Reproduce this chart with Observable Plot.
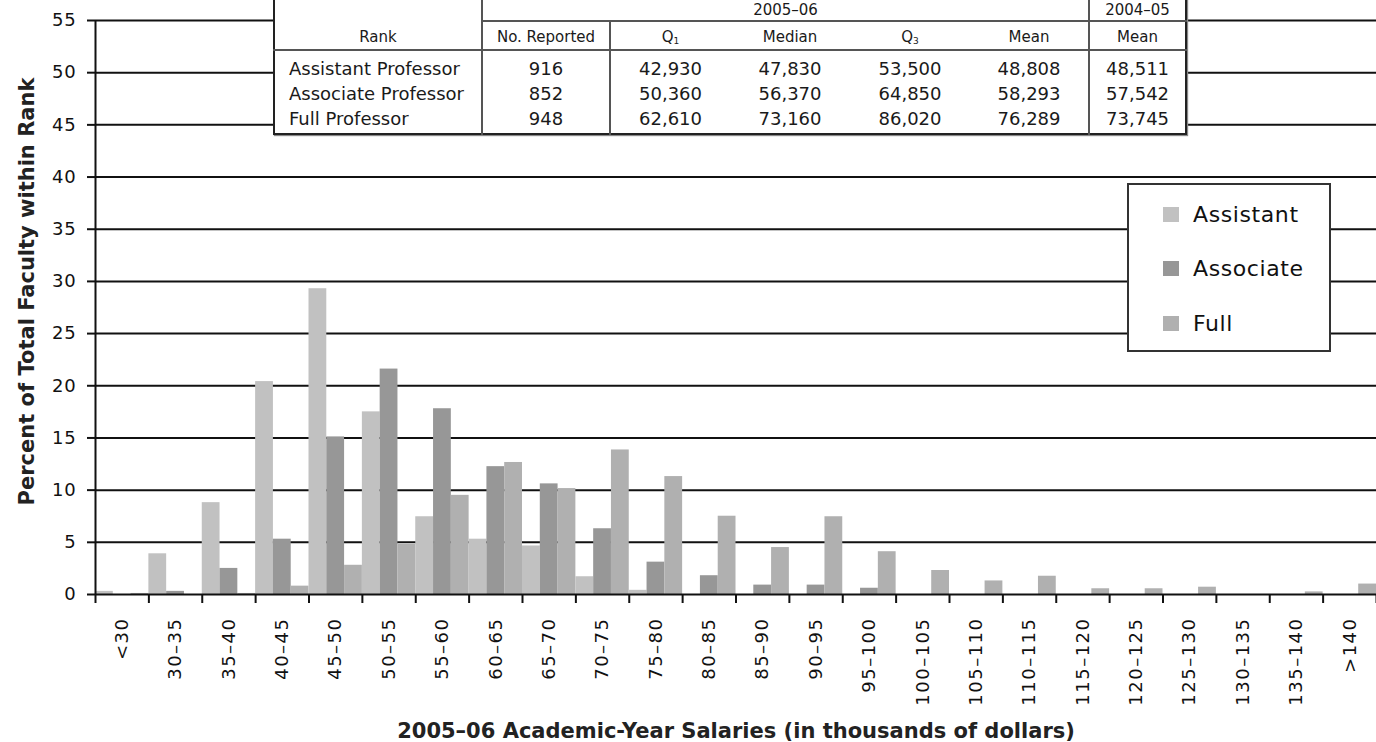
<!DOCTYPE html>
<html>
<head>
<meta charset="utf-8">
<script src="https://cdn.jsdelivr.net/npm/d3@7"></script>
<script src="https://cdn.jsdelivr.net/npm/@observablehq/plot@0.6"></script>
<style>
  body { margin: 0; background: #fff; font-family: "DejaVu Sans", sans-serif; }
  #wrap { position: relative; width: 1376px; height: 742px; overflow: hidden; }
  #wrap svg g[aria-label="x-axis tick label"] text { letter-spacing: 1.5px; }
  #wrap svg g[aria-label="y-axis tick label"] text { letter-spacing: 0.8px; }
  #tbl { position: absolute; left: 273px; top: -2px; width: 912px; border-collapse: collapse; table-layout: fixed;
         background: #fff; border: 2px solid #222; box-shadow: 1px 1px 1px #888; font-family: "DejaVu Sans", sans-serif; color: #1a1a1a; }
  #tbl th { font-weight: normal; font-size: 15px; padding: 0; text-align: center; }
  #tbl td { font-size: 18px; padding: 0; text-align: center; height: 25px; line-height: 25px; }
  #tbl .rank { text-align: left; padding-left: 14px; }
  #tbl .vr { border-right: 2px solid #555; }
  #tbl .hb { border-bottom: 2px solid #555; }
  #tbl sub { font-size: 9px; vertical-align: -2px; }
  #legend { position: absolute; left: 1127px; top: 183px; width: 200px; height: 165px; border: 2px solid #333; background: #fff; }
  #legend .item { position: absolute; left: 34px; height: 24px; display: flex; align-items: center; font-size: 22px; letter-spacing: 0.6px; color: #111; }
  #legend .sw { width: 16px; height: 15px; margin-right: 14px; }
</style>
</head>
<body>
<div id="wrap"></div>
<script>
// ---- Chart data ----
const categories = ["<30","30–35","35–40","40–45","45–50","50–55","55–60","60–65","65–70","70–75","75–80","80–85",
  "85–90","90–95","95–100","100–105","105–110","110–115","115–120","120–125","125–130","130–135","135–140",">140"];
const ranks = ["Assistant", "Associate", "Full"];
const colors = ["#c1c1c1", "#979797", "#b0b0b0"];
const assistant = [0.3, 3.9, 8.8, 20.4, 29.3, 17.5, 7.45, 5.3, 4.65, 1.7, 0.4, 0, 0, 0, 0, 0, 0, 0, 0, 0, 0, 0, 0, 0];
const associate = [0, 0.3, 2.5, 5.3, 15.1, 21.6, 17.8, 12.25, 10.6, 6.3, 3.1, 1.8, 0.9, 0.9, 0.6, 0, 0, 0, 0, 0, 0, 0, 0, 0];
const full      = [0.1, 0, 0.1, 0.8, 2.8, 4.8, 9.5, 12.65, 10.15, 13.85, 11.3, 7.5, 4.5, 7.45, 4.1, 2.3, 1.3, 1.75, 0.55, 0.55, 0.7, 0, 0.25, 1.0];
const yTicks = [0, 5, 10, 15, 20, 25, 30, 35, 40, 45, 50, 55];
const xTitle = "2005–06 Academic-Year Salaries (in thousands of dollars)";
const yTitle = "Percent of Total Faculty within Rank";

// ---- Table data ----
const tableRanks = ["Assistant Professor", "Associate Professor", "Full Professor"];
const noReported = [916, 852, 948];
const q1 = [42930, 50360, 62610];
const median = [47830, 56370, 73160];
const q3 = [53500, 64850, 86020];
const mean0506 = [48808, 58293, 76289];
const mean0405 = [48511, 57542, 73745];

const series = [assistant, associate, full];
const rows = categories.flatMap((c, i) => series.map((s, r) => ({cat: c, i, r, rank: ranks[r], value: s[i]})));
const nCat = categories.length;

const chart = Plot.plot({
  width: 1376, height: 742,
  marginLeft: 95, marginRight: 0, marginTop: 20, marginBottom: 148,
  style: {fontFamily: "DejaVu Sans, sans-serif", color: "#111", background: "transparent", overflow: "visible"},
  x: {type: "linear", domain: [0, nCat]},
  y: {domain: [0, 55]},
  color: {domain: ranks, range: colors},
  marks: [
    Plot.gridY(yTicks.slice(1), {stroke: "#111", strokeOpacity: 1, strokeWidth: 2}),
    Plot.rect(rows, {x1: d => d.i + d.r / 3, x2: d => d.i + (d.r + 1) / 3, y1: 0, y2: "value", fill: "rank"}),
    Plot.ruleY([0], {stroke: "#111", strokeWidth: 2}),
    Plot.ruleX([0], {stroke: "#111", strokeWidth: 2}),
    Plot.axisY(yTicks, {tickSize: 8, tickPadding: 11, fontSize: 18, label: null, strokeWidth: 2}),
    Plot.axisX(d3.range(0, nCat + 1), {tickSize: 9, tickFormat: () => "", label: null, strokeWidth: 2}),
    Plot.axisX(d3.range(nCat).map(i => i + 0.5), {tickSize: 0, tickPadding: 23, tickRotate: -90, fontSize: 18,
      tickFormat: v => categories[Math.floor(v)], label: null}),
    Plot.text([yTitle], {text: d => d, frameAnchor: "left", textAnchor: "middle", rotate: -90, dx: -68, dy: -16, fontSize: 21, fontWeight: "bold", fill: "#222"}),
    Plot.text([xTitle], {text: d => d, frameAnchor: "bottom", dy: 143, fontSize: 21, fontWeight: "bold", fill: "#222"})
  ]
});

const wrap = d3.select("#wrap");
wrap.node().appendChild(chart);

// ---- Table ----
const fmt = d3.format(",");
const tbl = wrap.append("table").attr("id", "tbl");
const cg = tbl.append("colgroup");
[208, 128, 120, 120, 120, 119, 97].forEach(w => cg.append("col").style("width", w + "px"));
const thead = tbl.append("thead");
const h1 = thead.append("tr").style("height", "22px");
h1.append("th").attr("rowspan", 2).attr("class", "vr hb").style("vertical-align", "bottom").style("padding-bottom", "3px").text("Rank");
h1.append("th").attr("colspan", 5).attr("class", "vr hb").text("2005–06");
h1.append("th").attr("class", "hb").text("2004–05");
const h2 = thead.append("tr").style("height", "29px");
h2.append("th").attr("class", "vr hb").style("padding-top", "3px").text("No. Reported");
h2.append("th").attr("class", "hb").style("padding-top", "3px").html("Q<sub>1</sub>");
h2.append("th").attr("class", "hb").style("padding-top", "3px").text("Median");
h2.append("th").attr("class", "hb").style("padding-top", "3px").html("Q<sub>3</sub>");
h2.append("th").attr("class", "vr hb").style("padding-top", "3px").text("Mean");
h2.append("th").attr("class", "hb").style("padding-top", "3px").text("Mean");
const tbody = tbl.append("tbody");
tableRanks.forEach((rk, k) => {
  const tr = tbody.append("tr");
  const pad = k === 0 ? "5px" : "0px";
  const padB = k === tableRanks.length - 1 ? "2px" : "0px";
  const cells = [
    [rk, "rank vr"], [fmt(noReported[k]), "vr"], [fmt(q1[k]), ""], [fmt(median[k]), ""],
    [fmt(q3[k]), ""], [fmt(mean0506[k]), "vr"], [fmt(mean0405[k]), ""]
  ];
  cells.forEach(([t, c]) => tr.append("td").attr("class", c).style("padding-top", pad).style("padding-bottom", padB).text(t));
});

// ---- Legend ----
const legend = wrap.append("div").attr("id", "legend");
const itemTops = [17, 71, 126];
ranks.forEach((r, k) => {
  const it = legend.append("div").attr("class", "item").style("top", itemTops[k] + "px");
  it.append("div").attr("class", "sw").style("background", colors[k]);
  it.append("span").text(r);
});
</script>
</body>
</html>
